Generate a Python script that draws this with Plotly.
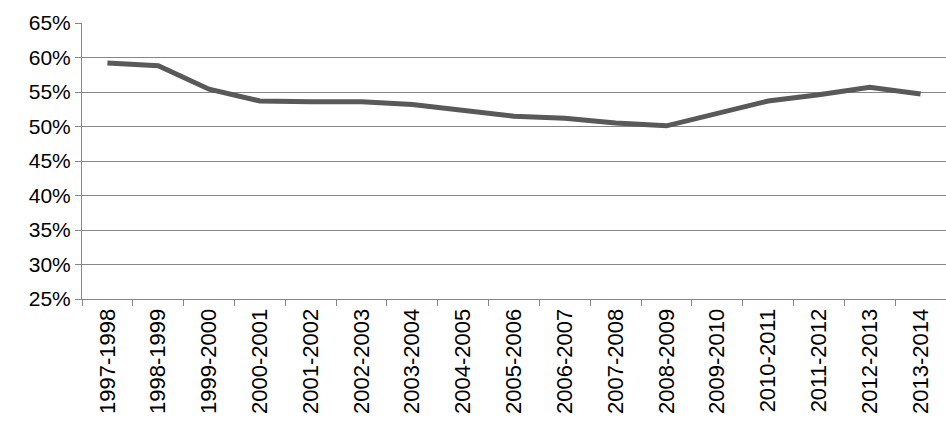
import plotly.graph_objects as go

years = ["1997-1998", "1998-1999", "1999-2000", "2000-2001", "2001-2002", "2002-2003",
         "2003-2004", "2004-2005", "2005-2006", "2006-2007", "2007-2008", "2008-2009",
         "2009-2010", "2010-2011", "2011-2012", "2012-2013", "2013-2014"]
share = [0.592, 0.588, 0.554, 0.537, 0.536, 0.536, 0.532, 0.523, 0.515, 0.512,
         0.505, 0.501, 0.519, 0.537, 0.546, 0.557, 0.547]

fig = go.Figure(go.Scatter(x=years, y=share, mode="lines",
                           line=dict(color="#595959", width=5)))

fig.update_layout(
    width=946, height=432,
    margin=dict(l=82, r=0, t=23, b=133, pad=0),
    plot_bgcolor="white", paper_bgcolor="white",
    showlegend=False,
    font=dict(family="Liberation Sans", size=22, color="black"),
)
fig.update_xaxes(tickangle=-90, showgrid=False, showline=True, linecolor="#868686",
                 tickson="boundaries", ticks="outside", ticklen=6, tickcolor="#868686",
                 range=[-0.5, 16.5], automargin=False)
fig.update_yaxes(range=[0.25, 0.65], dtick=0.05, tickformat=".0%",
                 showgrid=True, gridcolor="#868686", gridwidth=1,
                 showline=True, linecolor="#868686", ticks="outside", ticklen=6,
                 tickcolor="#868686", zeroline=False, automargin=False,
                 tickfont=dict(size=21))

fig.write_html("out.html", config={"displayModeBar": False},
               post_script="document.body.style.margin='0';")
